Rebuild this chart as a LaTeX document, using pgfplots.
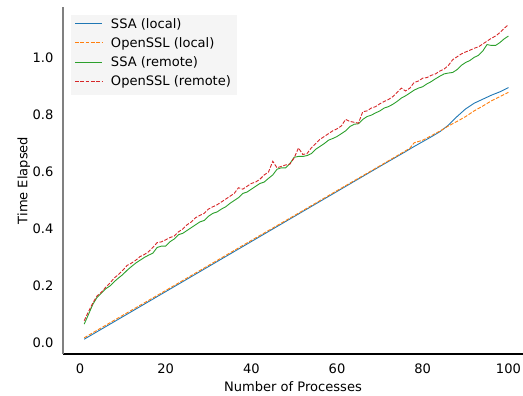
\documentclass[border=0pt]{standalone}
\usepackage{fontspec}
\setmainfont{DejaVu Sans}
\usepackage{pgfplots}
\pgfplotsset{compat=1.18}
\definecolor{tabblue}{HTML}{1F77B4}
\definecolor{taborange}{HTML}{FF7F0E}
\definecolor{tabgreen}{HTML}{2CA02C}
\definecolor{tabred}{HTML}{D62728}
\begin{document}
\fontsize{13.1}{15.5}\selectfont
\begin{tikzpicture}
\begin{axis}[
  at={(0,0)}, anchor=south west,
  scale only axis, width=460bp, height=347bp,
  xmin=-3.95, xmax=103.4, ymin=-0.039, ymax=1.18,
  axis lines*=left,
  x axis line style={black, line width=1.3bp, -},
  y axis line style={gray, line width=1.8bp, -},
  major tick length=0pt,
  xtick={0,20,40,60,80,100},
  ytick={0,0.2,0.4,0.6,0.8,1.0},
  /pgf/number format/assume math mode=true,
  yticklabel style={/pgf/number format/fixed, /pgf/number format/fixed zerofill, /pgf/number format/precision=1, xshift=-5bp},
  ticklabel style={font=\fontsize{13.1}{15.5}\selectfont},
  xticklabel style={yshift=-5bp},
  label style={font=\fontsize{13.1}{15.5}\selectfont},
  xlabel={Number of Processes},
  ylabel={Time Elapsed},
  xlabel style={at={(axis description cs:0.5,-0.095)}, anchor=center},
  ylabel style={at={(axis description cs:-0.085,0.5)}, anchor=center},
]
\addplot[color=tabblue, line width=0.9bp] coordinates {
(1,0.013)(10,0.092)(20,0.180)(30,0.268)(40,0.356)(50,0.444)(60,0.532)(70,0.620)
(76,0.672)(78,0.690)(80,0.707)(82,0.724)(84,0.742)(86,0.765)(88,0.795)(90,0.822)
(92,0.842)(94,0.856)(96,0.870)(98,0.882)(100,0.897)};
\addplot[color=taborange, line width=0.9bp, dash pattern=on 3.7bp off 1.6bp] coordinates {
(1,0.018)(10,0.097)(20,0.184)(30,0.272)(40,0.360)(50,0.447)(60,0.535)(70,0.622)
(76,0.675)(77,0.684)(78,0.703)(80,0.712)(82,0.728)(84,0.744)(86,0.762)(88,0.778)
(90,0.795)(92,0.815)(94,0.832)(96,0.850)(98,0.865)(100,0.880)};
\addplot[color=tabgreen, line width=0.9bp] coordinates {
(1,0.066)(2,0.10)(3,0.135)(4,0.16)(5,0.175)(6,0.19)(7,0.20)(8,0.215)(9,0.228)(10,0.24)
(11,0.255)(12,0.268)(13,0.28)(14,0.29)(15,0.30)(16,0.308)(17,0.315)(18,0.335)(19,0.34)(20,0.34)
(21,0.355)(22,0.365)(23,0.38)(24,0.385)(25,0.395)(26,0.405)(27,0.415)(28,0.425)(29,0.43)(30,0.445)
(31,0.455)(32,0.46)(33,0.47)(34,0.478)(35,0.49)(36,0.50)(37,0.51)(38,0.525)(39,0.53)(40,0.54)
(41,0.55)(42,0.56)(43,0.565)(44,0.578)(45,0.59)(46,0.61)(47,0.615)(48,0.615)(49,0.63)(50,0.652)
(51,0.655)(52,0.655)(53,0.658)(54,0.665)(55,0.68)(56,0.69)(57,0.70)(58,0.712)(59,0.718)(60,0.725)
(61,0.735)(62,0.745)(63,0.76)(64,0.768)(65,0.77)(66,0.785)(67,0.795)(68,0.80)(69,0.808)(70,0.815)
(71,0.825)(72,0.83)(73,0.838)(74,0.848)(75,0.86)(76,0.868)(77,0.878)(78,0.888)(79,0.895)(80,0.90)
(81,0.91)(82,0.918)(83,0.928)(84,0.937)(85,0.945)(86,0.948)(87,0.95)(88,0.96)(89,0.975)(90,0.985)
(91,0.992)(92,1.003)(93,1.01)(94,1.025)(95,1.048)(96,1.045)(97,1.045)(98,1.055)(99,1.068)(100,1.078)};
\addplot[color=tabred, line width=0.9bp, dash pattern=on 3.7bp off 1.6bp] coordinates {
(1,0.078)(2,0.11)(3,0.14)(4,0.165)(5,0.178)(6,0.195)(7,0.21)(8,0.228)(9,0.24)(10,0.255)
(11,0.272)(12,0.28)(13,0.29)(14,0.303)(15,0.31)(16,0.32)(17,0.335)(18,0.352)(19,0.355)(20,0.362)
(21,0.37)(22,0.375)(23,0.39)(24,0.40)(25,0.415)(26,0.425)(27,0.44)(28,0.448)(29,0.455)(30,0.47)
(31,0.478)(32,0.485)(33,0.495)(34,0.505)(35,0.515)(36,0.525)(37,0.545)(38,0.54)(39,0.55)(40,0.56)
(41,0.565)(42,0.575)(43,0.59)(44,0.60)(45,0.638)(46,0.615)(47,0.62)(48,0.625)(49,0.628)(50,0.65)
(51,0.685)(52,0.662)(53,0.665)(54,0.685)(55,0.70)(56,0.715)(57,0.725)(58,0.735)(59,0.745)(60,0.752)
(61,0.762)(62,0.785)(63,0.778)(64,0.775)(65,0.772)(66,0.812)(67,0.815)(68,0.825)(69,0.83)(70,0.84)
(71,0.848)(72,0.855)(73,0.865)(74,0.88)(75,0.895)(76,0.885)(77,0.895)(78,0.915)(79,0.92)(80,0.93)
(81,0.932)(82,0.94)(83,0.945)(84,0.955)(85,0.962)(86,0.975)(87,0.995)(88,1.005)(89,1.015)(90,1.022)
(91,1.028)(92,1.035)(93,1.04)(94,1.05)(95,1.06)(96,1.07)(97,1.078)(98,1.09)(99,1.105)(100,1.118)};
% legend, drawn inside the axis
\fill[black!4] (rel axis cs:0.01739,0.74640) rectangle (rel axis cs:0.37891,0.97695);
\draw[color=tabblue, line width=1.3bp] (rel axis cs:0.02609,0.95245) -- (rel axis cs:0.08413,0.95245);
\draw[color=taborange, line width=1.3bp, dash pattern=on 3.7bp off 1.6bp] (rel axis cs:0.02609,0.89769) -- (rel axis cs:0.08413,0.89769);
\draw[color=tabgreen, line width=1.3bp] (rel axis cs:0.02609,0.84006) -- (rel axis cs:0.08413,0.84006);
\draw[color=tabred, line width=1.3bp, dash pattern=on 3.7bp off 1.6bp] (rel axis cs:0.02609,0.78530) -- (rel axis cs:0.08413,0.78530);
\node[anchor=base west, inner sep=0pt, font=\fontsize{13.1}{15.5}\selectfont] at (rel axis cs:0.10391,0.93775) {SSA (local)};
\node[anchor=base west, inner sep=0pt, font=\fontsize{13.1}{15.5}\selectfont] at (rel axis cs:0.10391,0.88300) {OpenSSL (local)};
\node[anchor=base west, inner sep=0pt, font=\fontsize{13.1}{15.5}\selectfont] at (rel axis cs:0.10391,0.82738) {SSA (remote)};
\node[anchor=base west, inner sep=0pt, font=\fontsize{13.1}{15.5}\selectfont] at (rel axis cs:0.10391,0.77262) {OpenSSL (remote)};
\end{axis}
\pgfresetboundingbox
\useasboundingbox (-63bp,-42bp) rectangle (460bp,354bp);
\end{tikzpicture}
\end{document}
